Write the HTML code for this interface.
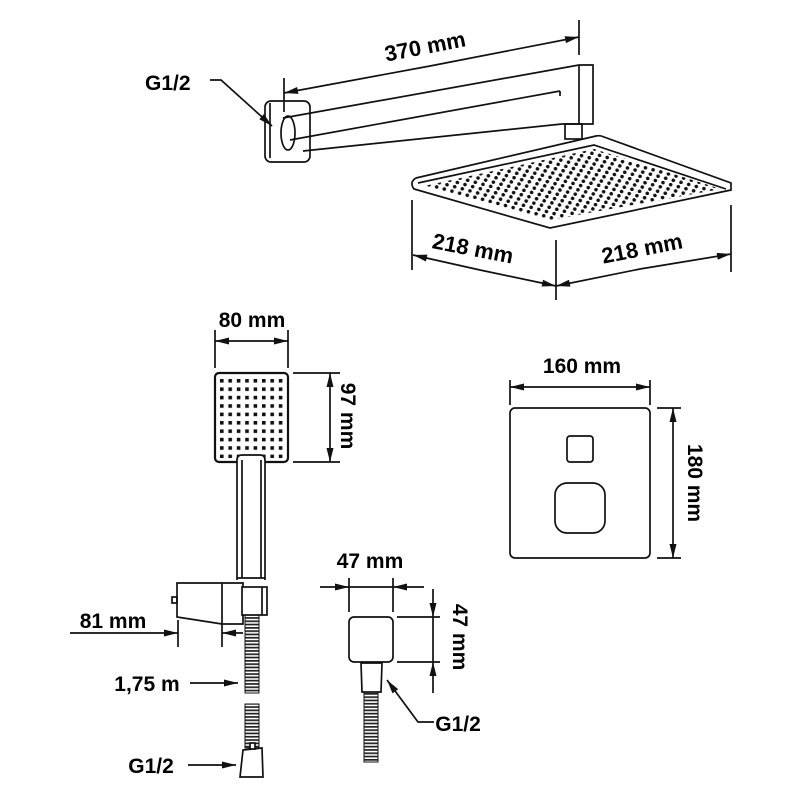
<!DOCTYPE html>
<html><head><meta charset="utf-8"><style>
html,body{margin:0;padding:0;background:#fff}
svg{display:block}
text{font-family:"Liberation Sans",Arial,sans-serif;font-weight:bold;fill:#000}
</style></head><body>
<svg width="800" height="800" viewBox="0 0 800 800" xmlns="http://www.w3.org/2000/svg">
<defs>
<marker id="arb" viewBox="0 0 16 8" refX="16" refY="4" markerWidth="16" markerHeight="7" markerUnits="userSpaceOnUse" orient="auto"><path d="M0,0 L16,4 L0,8 Z" fill="#111"/></marker>
<pattern id="dots" patternUnits="userSpaceOnUse" width="10" height="10" patternTransform="matrix(1.035,-0.224,0.765,0.206,420,185)"><circle cx="0" cy="0" r="1.8" fill="#111" transform="matrix(0.536,0.582,-1.989,2.691,5,5)"/></pattern>
<pattern id="sq" patternUnits="userSpaceOnUse" width="8.4" height="8.4" x="220" y="379"><rect x="0" y="0" width="3.6" height="3.6" fill="#111"/></pattern>
<pattern id="hose" patternUnits="userSpaceOnUse" width="14" height="3.3"><rect x="0" y="0" width="14" height="1.7" fill="#222"/></pattern>
</defs>
<g stroke="#111" fill="none" stroke-width="1.7">
<text x="145" y="90" font-size="21" stroke="none">G1/2</text>
<polyline points="210,80 221,80 272,126" marker-end="url(#arb)"/>
<rect x="265" y="101" width="45" height="61" rx="6"/>
<path d="M270,103 L270,158" />
<ellipse cx="288" cy="133" rx="7" ry="17"/>
<line x1="283" y1="118" x2="579" y2="65"/>
<line x1="303" y1="151" x2="562" y2="124"/>
<line x1="290" y1="140" x2="560" y2="91"/>
<line x1="560" y1="91" x2="560" y2="96"/>
<polyline points="579,65 593,65 593,124 562,124"/>
<line x1="579" y1="65" x2="579" y2="124"/>
<rect x="565" y="124" width="17" height="15"/>
<path d="M416,178 L596,136 Q600,135 604,137 L731,183 L731,190 L550,228 L414,189 Q409,182 416,178 Z" fill="#fff"/>
<polyline points="418,183 594,145 726,189"/>
<polygon points="424,186 594,149 721,189 550,220" fill="url(#dots)" stroke="none"/>
<line x1="284" y1="78" x2="284" y2="112"/>
<line x1="579" y1="20" x2="579" y2="55"/>
<line x1="430" y1="66" x2="284" y2="93" marker-end="url(#arb)" />
<line x1="430" y1="66" x2="579" y2="37" marker-end="url(#arb)"/>
<text x="425" y="54" font-size="22" stroke="none" text-anchor="middle" transform="rotate(-11 425 46)">370 mm</text>
<line x1="412" y1="200" x2="412" y2="270"/>
<line x1="556" y1="240" x2="556" y2="300"/>
<line x1="731" y1="205" x2="731" y2="272"/>
<line x1="480" y1="270" x2="413" y2="255" marker-end="url(#arb)"/>
<line x1="480" y1="270" x2="556" y2="286" marker-end="url(#arb)"/>
<line x1="640" y1="269" x2="556" y2="286" marker-end="url(#arb)"/>
<line x1="640" y1="269" x2="731" y2="254" marker-end="url(#arb)"/>
<text x="473" y="256" font-size="22" stroke="none" text-anchor="middle" transform="rotate(11 473 248)">218 mm</text>
<text x="642" y="256" font-size="22" stroke="none" text-anchor="middle" transform="rotate(-11 642 248)">218 mm</text>

<text x="252" y="327" font-size="21" stroke="none" text-anchor="middle">80 mm</text>
<line x1="215" y1="330" x2="215" y2="368"/>
<line x1="288" y1="330" x2="288" y2="368"/>
<line x1="250" y1="341" x2="215" y2="341" marker-end="url(#arb)"/>
<line x1="250" y1="341" x2="288" y2="341" marker-end="url(#arb)"/>
<rect x="215" y="373" width="73" height="89" rx="4" stroke-width="2.2"/>
<rect x="219" y="378" width="66" height="80" fill="url(#sq)" stroke="none"/>
<line x1="293" y1="373" x2="340" y2="373"/>
<line x1="293" y1="462" x2="340" y2="462"/>
<line x1="330" y1="415" x2="330" y2="373" marker-end="url(#arb)"/>
<line x1="330" y1="415" x2="330" y2="462" marker-end="url(#arb)"/>
<text x="0" y="0" font-size="21" stroke="none" text-anchor="middle" transform="translate(341 416) rotate(90)">97 mm</text>
<path d="M237,580 L237,460 Q237,455 242,455 L260,455 Q265,455 265,460 L265,580" fill="#fff"/>
<line x1="242" y1="460" x2="242" y2="578"/>
<line x1="261" y1="460" x2="261" y2="578"/>
<line x1="237" y1="578" x2="265" y2="578"/>
<polygon points="177,583 243,583 243,624 222,624 177,617" fill="#fff"/>
<line x1="222" y1="583" x2="222" y2="624"/>
<rect x="242" y="587" width="25" height="28" fill="#fff"/>
<line x1="262" y1="587" x2="262" y2="615"/>
<rect x="172" y="597" width="5" height="6"/>
<rect x="245" y="615" width="14" height="78" fill="url(#hose)" stroke-width="1"/>
<rect x="245" y="704" width="14" height="44" fill="url(#hose)" stroke-width="1"/>
<polygon points="243,750 262,748 263,777 240,777" fill="#fff"/>
<rect x="250" y="743" width="5" height="6" fill="#fff"/>
<text x="113" y="628" font-size="21" stroke="none" text-anchor="middle">81 mm</text>
<line x1="70" y1="633" x2="178" y2="633" marker-end="url(#arb)"/>
<line x1="243" y1="633" x2="222" y2="633" marker-end="url(#arb)"/>
<line x1="178" y1="620" x2="178" y2="647"/>
<line x1="222" y1="624" x2="222" y2="647"/>
<text x="147" y="691" font-size="21" stroke="none" text-anchor="middle">1,75 m</text>
<line x1="190" y1="683" x2="238" y2="683" marker-end="url(#arb)"/>
<text x="151" y="773" font-size="21" stroke="none" text-anchor="middle">G1/2</text>
<line x1="188" y1="765" x2="236" y2="765" marker-end="url(#arb)"/>

<text x="582" y="373" font-size="21" stroke="none" text-anchor="middle">160 mm</text>
<line x1="510" y1="380" x2="510" y2="405"/>
<line x1="650" y1="380" x2="650" y2="405"/>
<line x1="580" y1="387" x2="510" y2="387" marker-end="url(#arb)"/>
<line x1="580" y1="387" x2="650" y2="387" marker-end="url(#arb)"/>
<rect x="510" y="408" width="140" height="150" rx="5"/>
<rect x="567" y="436" width="26" height="26" rx="3"/>
<rect x="555" y="483" width="50" height="50" rx="12"/>
<line x1="657" y1="408" x2="681" y2="408"/>
<line x1="657" y1="558" x2="681" y2="558"/>
<line x1="673" y1="483" x2="673" y2="408" marker-end="url(#arb)"/>
<line x1="673" y1="483" x2="673" y2="558" marker-end="url(#arb)"/>
<text x="0" y="0" font-size="21" stroke="none" text-anchor="middle" transform="translate(688 483) rotate(90)">180 mm</text>

<text x="370" y="568" font-size="21" stroke="none" text-anchor="middle">47 mm</text>
<line x1="349" y1="578" x2="349" y2="612"/>
<line x1="393" y1="578" x2="393" y2="612"/>
<line x1="320" y1="587" x2="349" y2="587" marker-end="url(#arb)"/>
<line x1="424" y1="587" x2="393" y2="587" marker-end="url(#arb)"/>
<line x1="349" y1="587" x2="393" y2="587"/>
<rect x="349" y="617" width="44" height="45" rx="5"/>
<line x1="397" y1="617" x2="440" y2="617"/>
<line x1="397" y1="662" x2="440" y2="662"/>
<line x1="433" y1="589" x2="433" y2="617" marker-end="url(#arb)"/>
<line x1="433" y1="693" x2="433" y2="662" marker-end="url(#arb)"/>
<line x1="433" y1="617" x2="433" y2="662"/>
<text x="0" y="0" font-size="21" stroke="none" text-anchor="middle" transform="translate(453 637) rotate(90)">47 mm</text>
<polygon points="361,663 382,663 381,692 362,692" fill="#fff"/>
<rect x="364" y="692" width="14" height="70" fill="url(#hose)" stroke-width="1"/>
<text x="458" y="731" font-size="21" stroke="none" text-anchor="middle">G1/2</text>
<polyline points="434,722 418,722 387,680" marker-end="url(#arb)"/>
</g>
</svg>
</body></html>
